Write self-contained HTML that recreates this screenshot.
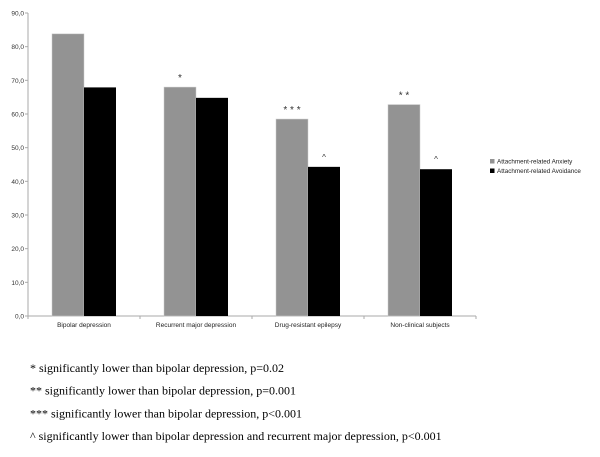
<!DOCTYPE html>
<html><head><meta charset="utf-8"><style>
body{margin:0;background:#fff;width:600px;height:457px;overflow:hidden}
svg{display:block}
</style></head><body>
<svg id="chart" width="600" height="457" xmlns="http://www.w3.org/2000/svg" font-family="Liberation Sans, sans-serif"></svg>
<script>
const categories=["Bipolar depression","Recurrent major depression","Drug-resistant epilepsy","Non-clinical subjects"];
const anxiety=[83.8,68.0,58.5,62.8];
const avoidance=[67.9,64.8,44.3,43.6];
const anxMarks=["","*","***","**"];
const avoMarks=["","","^","^"];
const yTicks=[0,10,20,30,40,50,60,70,80,90];
const seriesNames=["Attachment-related Anxiety","Attachment-related Avoidance"];
const footnotes=["* significantly lower than bipolar depression, p=0.02","** significantly lower than bipolar depression, p=0.001","*** significantly lower than bipolar depression, p<0.001","^ significantly lower than bipolar depression and recurrent major depression, p<0.001"];

const svg=document.getElementById('chart');
const NS="http://www.w3.org/2000/svg";
const x0=28,x1=476,yTop=13,yBot=316,yMax=90;
const y=v=>yBot-(v/yMax)*(yBot-yTop);
const cw=(x1-x0)/categories.length;
const xc=i=>x0+cw*i;
function mk(t,a,txt){const e=document.createElementNS(NS,t);for(const k in a)e.setAttribute(k,a[k]);if(txt!=null)e.textContent=txt;svg.appendChild(e);return e;}

let e;
e=mk('line',{x1:x0,y1:yTop,x2:x0,y2:yBot,stroke:'#aaa','stroke-width':1});


e=mk('line',{x1:x0,y1:yBot,x2:x1,y2:yBot,stroke:'#aaa','stroke-width':1});


yTicks.forEach(t=>{
  mk('line',{x1:x0-3,y1:y(t),x2:x0,y2:y(t),stroke:'#aaa'});
  e=mk('text',{x:x0-4,y:y(t)+2.5,'font-size':6.5,'text-anchor':'end',fill:'#333'},t.toFixed(1).replace('.',','));
  
  
});
for(let i=0;i<=categories.length;i++){mk('line',{x1:xc(i),y1:yBot,x2:xc(i),y2:yBot+3,stroke:'#aaa'});}
const bw=32,off=24;
categories.forEach((c,i)=>{
  const bx=xc(i)+off;
  e=mk('rect',{x:bx,y:y(anxiety[i]),width:bw,height:yBot-y(anxiety[i]),fill:'#939393',stroke:'#ccc','stroke-width':0.5});
  
  
  e=mk('rect',{x:bx+bw,y:y(avoidance[i]),width:bw,height:yBot-y(avoidance[i]),fill:'#000'});
  
  
  if(anxMarks[i]){e=mk('text',{x:bx+bw/2,y:y(anxiety[i])-6,'font-size':10,'text-anchor':'middle',fill:'#333'},anxMarks[i].split('').join(' '));
    
    }
  if(avoMarks[i]){e=mk('text',{x:bx+bw*1.5,y:y(avoidance[i])-7,'font-size':8,'text-anchor':'middle',fill:'#333'},avoMarks[i]);
    
    }
  e=mk('text',{x:xc(i)+cw/2,y:yBot+11,'font-size':6.5,'text-anchor':'middle',fill:'#222'},c);
  
  
});
const lc=['#939393','#000'];
seriesNames.forEach((n,k)=>{
  const ly=161+k*9.5;
  e=mk('rect',{x:490,y:ly-2,width:4.5,height:4.5,fill:lc[k]});
  
  
  e=mk('text',{x:497,y:ly+2.5,'font-size':6.3,fill:'#222'},n);
  
  
});
footnotes.forEach((f,k)=>{
  e=mk('text',{x:30,y:372+k*22.7,'font-size':12,'font-family':'Liberation Serif, serif',fill:'#000'},f);
  
  
});
</script>
</body></html>
